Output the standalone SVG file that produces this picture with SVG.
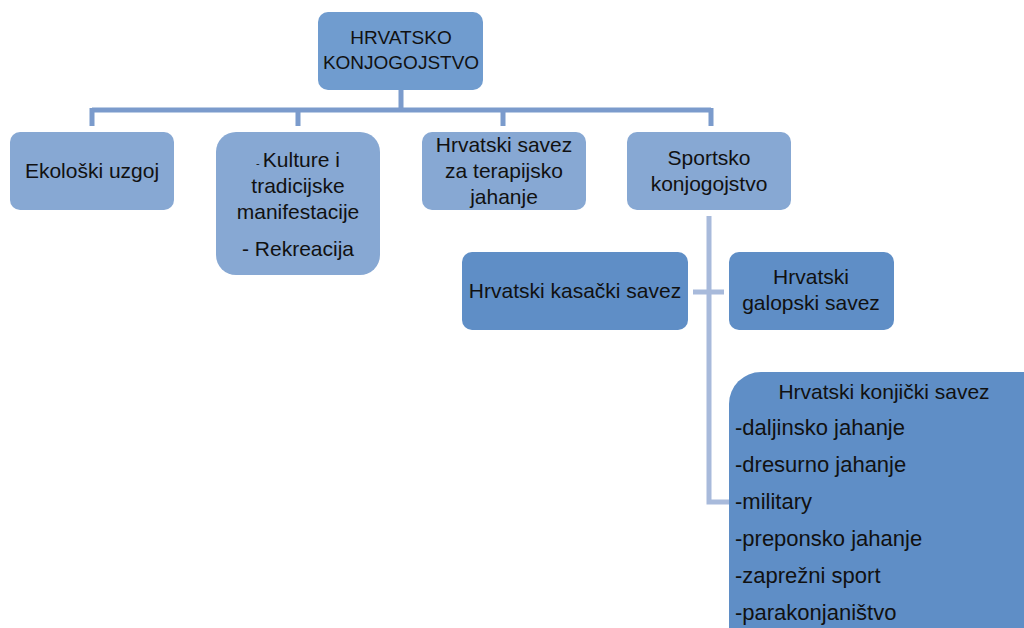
<svg xmlns="http://www.w3.org/2000/svg" width="1024" height="628" viewBox="0 0 1024 628">
<style>
text{font-family:"Liberation Sans",Arial,sans-serif;font-size:21px;fill:#111}
.c{text-anchor:middle}
.r{font-size:19px}
.li{font-size:22px}
.l1{fill:#87a8d3}
.l2{fill:#5f8ec6}
.top{fill:none;stroke:#7b9bcc;stroke-width:5}
.low{fill:none;stroke:#a8badb;stroke-width:5}
</style>
<rect width="1024" height="628" fill="#fff"/>
<g id="connectors">
<path class="top" d="M401 90V110M92 110H711M92 108V126M298 108V126M503 108V126M711 108V126"/>
<path class="low" d="M709 216V502H729M693 292H724"/>
</g>
<g id="root">
<rect x="318" y="12" width="165" height="78" rx="10" fill="#709ccf"/>
<text class="c r" x="401" y="44">HRVATSKO</text>
<text class="c r" x="401" y="69">KONJOGOJSTVO</text>
</g>
<g id="ekoloski">
<rect class="l1" x="10" y="132" width="164" height="78" rx="10"/>
<text class="c" x="92" y="178">Ekološki uzgoj</text>
</g>
<g id="kulture">
<rect class="l1" x="216" y="132" width="164" height="143" rx="20"/>
<text class="c" x="298" y="167"><tspan font-size="11">- </tspan>Kulture i</text>
<text class="c" x="298" y="193">tradicijske</text>
<text class="c" x="298" y="219">manifestacije</text>
<text class="c" x="298" y="256">- Rekreacija</text>
</g>
<g id="terapijsko">
<rect class="l1" x="422" y="132" width="164" height="78" rx="10"/>
<text class="c" x="504" y="152">Hrvatski savez</text>
<text class="c" x="504" y="178">za terapijsko</text>
<text class="c" x="504" y="204">jahanje</text>
</g>
<g id="sportsko">
<rect class="l1" x="627" y="132" width="164" height="78" rx="10"/>
<text class="c" x="709" y="165">Sportsko</text>
<text class="c" x="709" y="191">konjogojstvo</text>
</g>
<g id="kasacki">
<rect class="l2" x="462" y="252" width="226" height="78" rx="10"/>
<text class="c" x="575" y="298">Hrvatski kasački savez</text>
</g>
<g id="galopski">
<rect class="l2" x="729" y="252" width="165" height="78" rx="10"/>
<text class="c" x="811" y="284">Hrvatski</text>
<text class="c" x="811" y="310">galopski savez</text>
</g>
<g id="konjicki">
<rect class="l2" x="729" y="372" width="330" height="290" rx="32"/>
<text class="c" x="884" y="399">Hrvatski konjički savez</text>
<text class="li" x="735" y="435">-daljinsko jahanje</text>
<text class="li" x="735" y="472">-dresurno jahanje</text>
<text class="li" x="735" y="509">-military</text>
<text class="li" x="735" y="546">-preponsko jahanje</text>
<text class="li" x="735" y="583">-zaprežni sport</text>
<text class="li" x="735" y="620">-parakonjaništvo</text>
</g>
</svg>
